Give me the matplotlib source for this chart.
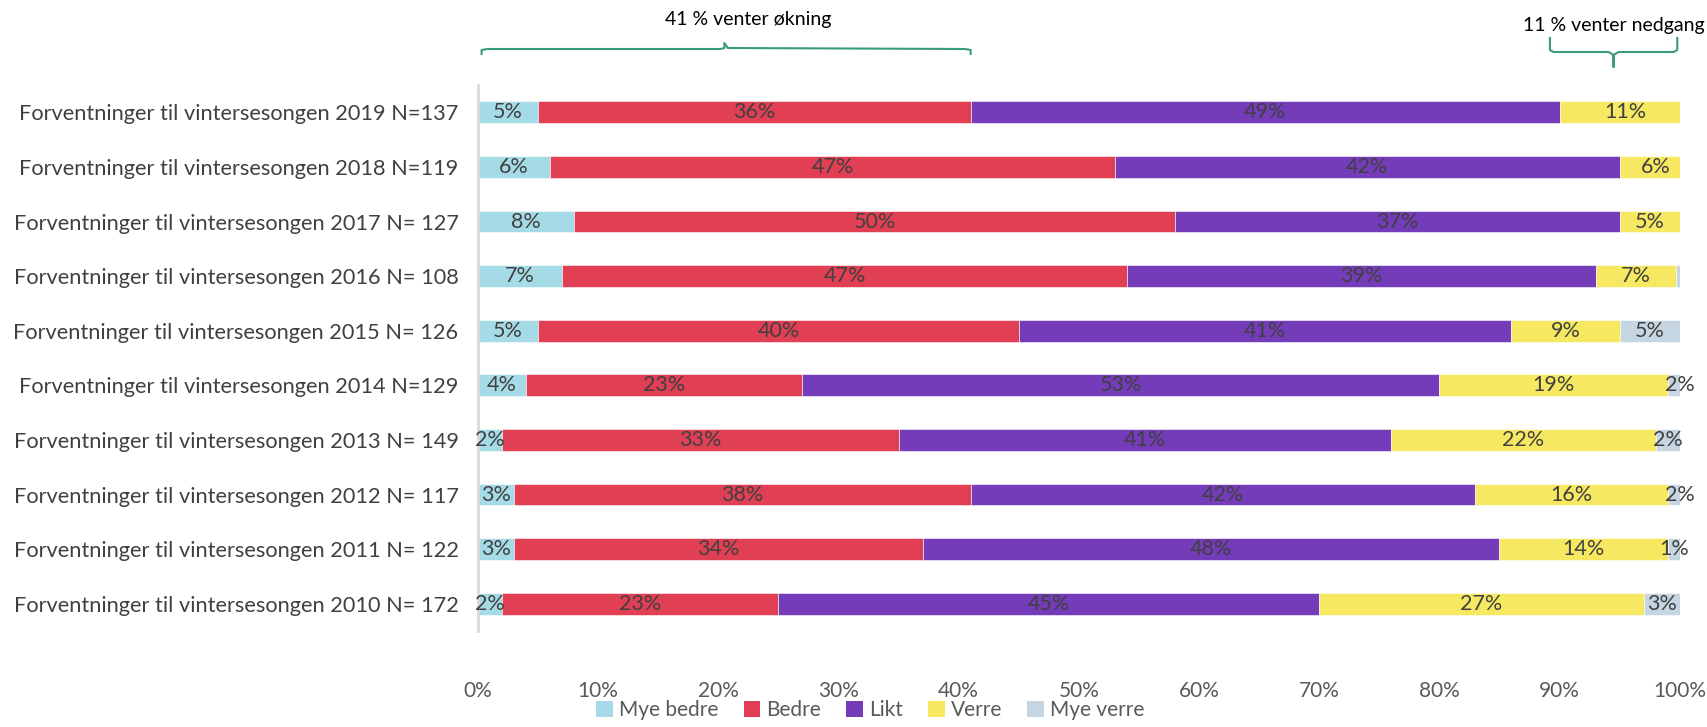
import matplotlib.pyplot as plt
import matplotlib.transforms as mtransforms
from matplotlib.patches import Patch
import numpy as np

plt.rcParams['font.family'] = ['Lato', 'DejaVu Sans']

# Data, top row first
rows = [
    "Forventninger til vintersesongen 2019 N=137",
    "Forventninger til vintersesongen 2018 N=119",
    "Forventninger til vintersesongen 2017 N= 127",
    "Forventninger til vintersesongen 2016 N= 108",
    "Forventninger til vintersesongen 2015 N= 126",
    "Forventninger til vintersesongen 2014 N=129",
    "Forventninger til vintersesongen 2013 N= 149",
    "Forventninger til vintersesongen 2012 N= 117",
    "Forventninger til vintersesongen 2011 N= 122",
    "Forventninger til vintersesongen 2010 N= 172",
]
categories = ["Mye bedre", "Bedre", "Likt", "Verre", "Mye verre"]
mye_bedre = [5, 6, 8, 7, 5, 4, 2, 3, 3, 2]
bedre = [36, 47, 50, 47, 40, 23, 33, 38, 34, 23]
likt = [49, 42, 37, 39, 41, 53, 41, 42, 48, 45]
verre = [11, 6, 5, 6.7, 9, 19, 22, 16, 14, 27]
mye_verre = [0, 0, 0, 0.3, 5, 2, 2, 2, 1, 3]
xticks = np.arange(0, 101, 10)

colors = ["#A5DBE6", "#E03F54", "#743CB9", "#F6E961", "#C5D5E1"]

series = [mye_bedre, bedre, likt, verre, mye_verre]

fig = plt.figure(figsize=(17.07, 7.27), dpi=100)
ax = fig.add_axes([0.280, 0.132, 0.704, 0.751])

y = np.arange(len(rows))
left = np.zeros(len(rows))
for vals, col, name in zip(series, colors, categories):
    vals = np.array(vals, dtype=float)
    ax.barh(y, vals, left=left, height=0.4, color=col, edgecolor='white',
            linewidth=0.4, label=name)
    for yi, l, v in zip(y, left, vals):
        if v >= 0.5:
            ax.text(min(l + v / 2, 100), yi, f"{v:.0f}%", ha='center', va='center',
                    fontsize=15.5, color='#404040')
    left += vals

ax.set_xlim(0, 100)
ax.set_ylim(len(rows) - 0.5, -0.5)
ax.set_yticks(y)
ax.set_yticklabels(rows, fontsize=15.7, color='#404040')
ax.set_xticks(xticks)
ax.set_xticklabels([f"{t}%" for t in xticks], fontsize=15, color='#595959')
ax.tick_params(axis='both', length=0)
ax.tick_params(axis='x', pad=36)
ax.tick_params(axis='y', pad=14)
for s in ['top', 'right', 'bottom']:
    ax.spines[s].set_visible(False)
ax.spines['left'].set_color('#D9D9D9')
ax.spines['left'].set_linewidth(2)

# Braces above the chart
trans = mtransforms.blended_transform_factory(ax.transData, fig.transFigure)
def fy(px):
    return 1 - px / 727

up_end = mye_bedre[0] + bedre[0]
mid = up_end / 2
bx = [0.3, 0.3, 0.8, mid - 0.3, mid, mid, mid + 0.3, up_end - 0.5, up_end, up_end]
by = [fy(54), fy(50), fy(49), fy(49), fy(48), fy(43), fy(48), fy(49), fy(50), fy(54)]
ax.plot(bx, by, transform=trans, color='#3A9B78', lw=1.5, clip_on=False)
ax.text(mid + 2, fy(20), f"{up_end} % venter økning", transform=trans,
        ha='center', va='center', fontsize=14, color='black')

d0 = 100 - verre[0] + 0.2
d1 = 99.8
dm = (d0 + d1) / 2
rx = [d0, d0, d0 + 0.3, dm - 0.4, dm, dm, dm, dm + 0.4, d1 - 0.3, d1, d1]
ry = [fy(38), fy(50), fy(52), fy(52), fy(55), fy(67), fy(55), fy(52), fy(52), fy(50), fy(38)]
ax.plot(rx, ry, transform=trans, color='#3A9B78', lw=1.5, clip_on=False)
ax.text(dm, fy(25), f"{verre[0]} % venter nedgang", transform=trans,
        ha='center', va='center', fontsize=14, color='black')

handles = [Patch(facecolor=c, label=n) for c, n in zip(colors, categories)]
fig.legend(handles=handles, loc='lower center', bbox_to_anchor=(0.51, -0.016), ncol=5,
           frameon=False, fontsize=15, handlelength=0.8, handleheight=0.8,
           handletextpad=0.3, columnspacing=1.2, labelcolor='#595959')

fig.savefig('out.png', dpi=100)
